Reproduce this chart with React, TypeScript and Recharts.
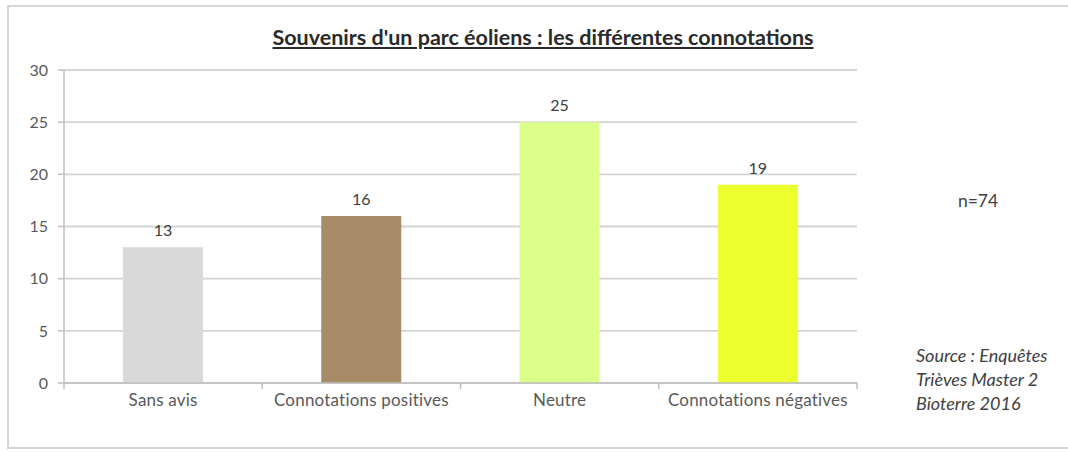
import React from 'react';
import { BarChart, Bar, XAxis, YAxis, CartesianGrid, LabelList, Cell } from 'recharts';

const categories = ['Sans avis', 'Connotations positives', 'Neutre', 'Connotations négatives'];
const values = [13, 16, 25, 19];
const colors = ['#d9d9d9', '#a68b66', '#dcff8c', '#ecff2c'];
const yTicks = [0, 5, 10, 15, 20, 25, 30];

const data = categories.map((c, i) => ({ name: c, value: values[i] }));

const FONT = 'Lato, "Open Sans", sans-serif';
const X_TICK_SIZE = 0;
const X_TICK_MARGIN = 18;

const XTick = (props: any) => {
  const { x, y, payload, index } = props;
  const off = payload && payload.offset ? payload.offset : 0;
  const axisY = y - X_TICK_SIZE - X_TICK_MARGIN;
  return (
    <g>
      <line x1={x + off} x2={x + off} y1={axisY} y2={axisY + 6} stroke="#bfbfbf" strokeWidth={1.5} />
      {index === 0 && (
        <line x1={x - off} x2={x - off} y1={axisY} y2={axisY + 6} stroke="#bfbfbf" strokeWidth={1.5} />
      )}
      <text x={x} y={y} dy={5} textAnchor="middle" fill="#595959" fontSize={17} fontFamily={FONT} letterSpacing={0.2}>
        {payload.value}
      </text>
    </g>
  );
};

export default function App() {
  return (
    <div style={{ position: 'absolute', left: 0, top: 0, width: 1068, height: 452, background: '#fff', fontFamily: FONT }}>
      <div style={{ position: 'absolute', left: 7, top: 5, width: 1070, height: 444, border: '2px solid #d6d6d6', boxSizing: 'border-box' }} />
      <div style={{ position: 'absolute', left: 0, top: 24, width: 1086, textAlign: 'center', fontSize: 21.5, fontWeight: 700, color: '#2a2a2a', textDecoration: 'underline' }}>
        Souvenirs d'un parc éoliens : les différentes connotations
      </div>
      <BarChart
        width={1068}
        height={452}
        data={data}
        margin={{ top: 70, right: 211, left: 0, bottom: 39 }}
        barSize={80}
        style={{ position: 'absolute', left: 0, top: 0 }}
      >
        <CartesianGrid vertical={false} stroke="#d4d4d4" strokeWidth={1.8} />
        <XAxis
          dataKey="name"
          height={30}
          axisLine={{ stroke: '#bfbfbf', strokeWidth: 1.5 }}
          tickLine={false}
          tickSize={X_TICK_SIZE}
          tickMargin={X_TICK_MARGIN}
          tick={<XTick />}
          interval={0}
        />
        <YAxis
          width={64}
          domain={[0, 30]}
          ticks={yTicks}
          interval={0}
          axisLine={{ stroke: '#bfbfbf', strokeWidth: 1.5 }}
          tickLine={{ stroke: '#bfbfbf', strokeWidth: 1.5 }}
          tickSize={6}
          tickMargin={10}
          tick={{ fill: '#595959', fontSize: 16, fontFamily: FONT }}
        />
        <Bar dataKey="value" isAnimationActive={false}>
          {data.map((d, i) => (
            <Cell key={d.name} fill={colors[i]} />
          ))}
          <LabelList dataKey="value" position="top" offset={11} fill="#404040" fontSize={16} fontFamily={FONT} />
        </Bar>
      </BarChart>
      <div style={{ position: 'absolute', left: 930, top: 190, width: 96, textAlign: 'center', fontSize: 17.5, color: '#404040' }}>n=74</div>
      <div style={{ position: 'absolute', left: 916, top: 343, fontSize: 18, fontStyle: 'italic', color: '#404040', lineHeight: '24px' }}>
        Source : Enquêtes<br />Trièves Master 2<br />Bioterre 2016
      </div>
    </div>
  );
}
